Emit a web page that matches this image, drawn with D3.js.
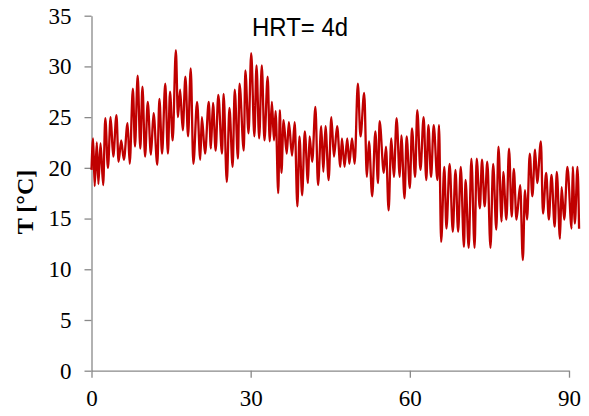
<!DOCTYPE html>
<html>
<head>
<meta charset="utf-8">
<script src="https://cdn.jsdelivr.net/npm/d3@7"></script>
<style>
  html, body { margin: 0; padding: 0; background: #ffffff; }
  svg { display: block; }
</style>
</head>
<body>
<svg id="chart" width="589" height="416"></svg>
<script>
// ---- data ----
const chartTitle = "HRT= 4d";
const yTitle = "T [°C]";
const xTicks = [0, 30, 60, 90];
const yTicks = [0, 5, 10, 15, 20, 25, 30, 35];

// time in days
const days = [
  0.0, 0.3, 0.6, 1.0, 1.3, 1.7, 2.2, 2.6, 3.1, 3.6, 4.1, 4.7, 5.1, 5.6, 6.1, 6.8, 7.2, 7.8, 8.2, 8.7,
  9.2, 9.6, 10.1, 10.6, 11.2, 11.7, 12.4, 12.8, 13.3, 13.9, 14.4, 14.8, 15.3, 15.9, 16.3, 16.7, 17.2, 17.7, 18.2, 18.7,
  19.2, 19.9, 20.5, 20.8, 21.4, 22.1,
  22.5, 22.9, 23.4, 23.9, 24.6, 24.9, 25.5, 26.0, 26.6, 27.0, 27.6, 27.9, 28.7, 29.0, 29.6, 30.1, 30.7, 31.1, 31.6, 32.1,
  32.6, 33.2, 33.6, 34.0, 34.4, 34.7, 35.2, 35.5, 35.8, 36.2, 36.8, 37.2, 37.8, 38.3, 38.8, 39.2, 39.7, 40.2, 40.8, 41.1,
  41.6, 42.2, 42.7, 43.3, 43.7, 44.1, 44.7, 45.2,
  45.7, 46.3, 46.9, 47.2, 47.7, 48.2, 48.6, 49.1, 49.6, 50.2, 50.7, 51.4, 51.9, 52.3, 52.9, 53.5, 54.0, 54.3, 55.1, 55.5,
  56.0, 56.5, 57.0, 57.5, 58.1, 58.4, 59.0, 59.4, 60.0, 60.4, 61.0, 61.4, 62.0, 62.6, 63.1, 63.5, 64.0, 64.5, 65.2, 65.5,
  65.9, 66.5, 66.9, 67.5,
  68.1, 68.6, 69.1, 69.6, 70.2, 70.5, 71.1, 71.6, 72.2, 72.6, 73.2, 73.6, 74.1, 74.6, 75.2, 75.7, 76.3, 76.7, 77.3, 77.6,
  78.2, 78.7, 79.2, 79.6, 80.1, 80.8, 81.3, 81.7, 82.1, 82.6, 83.1, 83.6, 84.0, 84.7, 85.1, 85.7, 86.2, 86.7, 87.3, 87.7,
  88.3, 88.6, 89.1, 89.7, 90.5, 90.7, 91.1, 91.6, 91.9
];
// temperature in °C
const temps = [
  19.8, 22.9, 18.2, 22.5, 18.4, 22.4, 18.3, 24.9, 20.0, 25.0, 21.1, 25.2, 20.6, 22.7, 20.8, 24.4, 20.4, 27.8, 22.1, 29.1,
  21.9, 28.0, 21.1, 26.5, 21.3, 25.4, 20.3, 26.8, 21.4, 28.3, 21.4, 27.5, 22.7, 31.6, 25.0, 27.7, 23.7, 29.0, 23.1, 29.8,
  20.4, 26.5, 20.8, 25.0, 21.4, 26.5,
  21.9, 26.4, 21.7, 27.2, 21.4, 27.3, 18.6, 25.9, 20.1, 27.7, 20.9, 28.3, 21.7, 29.6, 23.4, 31.3, 23.1, 30.1, 22.9, 30.1,
  22.7, 29.0, 22.6, 26.5, 22.7, 25.6, 17.5, 25.7, 19.5, 24.7, 21.4, 24.5, 21.2, 24.5, 16.2, 23.1, 17.3, 23.6, 18.5, 23.1,
  20.6, 26.0, 18.3, 24.1, 19.6, 24.1, 18.8, 25.0,
  21.1, 24.1, 20.1, 22.9, 20.1, 22.9, 20.4, 22.9, 20.4, 28.3, 23.1, 27.4, 19.1, 22.6, 17.2, 23.6, 18.5, 24.6, 19.5, 22.1,
  15.8, 22.9, 19.1, 24.9, 19.1, 23.2, 17.0, 23.1, 18.0, 23.9, 19.1, 25.7, 19.8, 25.0, 18.8, 24.2, 19.1, 24.2, 18.8, 24.2,
  12.7, 20.1, 14.0, 20.4,
  13.7, 19.8, 13.7, 20.1, 12.2, 18.8, 12.1, 20.9, 12.1, 20.9, 16.0, 20.8, 16.2, 20.6, 12.1, 20.4, 13.9, 22.1, 14.7, 19.6,
  14.9, 21.9, 15.2, 19.9, 14.9, 18.3, 10.9, 17.8, 14.9, 21.4, 17.2, 21.8, 18.5, 22.6, 15.5, 19.5, 14.9, 19.3, 14.2, 19.6,
  13.0, 18.1, 14.9, 20.1, 14.0, 20.1, 14.5, 20.1, 14.0
];

const series = days.map((d, i) => ({ t: d, v: temps[i] }));

// ---- layout ----
const svg = d3.select("#chart");
const x0 = 91.5, x1 = 569, y0 = 370.7, y1 = 15.7;

const x = d3.scaleLinear().domain([0, 90]).range([x0, x1]);
const y = d3.scaleLinear().domain([0, 35]).range([y0, y1]);

const axisColor = "#898989";
const tickFont = "'Liberation Serif', 'Times New Roman', serif";

// y axis
const gy = svg.append("g")
  .attr("transform", `translate(${x0},0)`)
  .call(d3.axisLeft(y).tickValues(yTicks).tickSize(7).tickSizeOuter(0).tickPadding(13));
gy.select(".domain").attr("stroke", axisColor).attr("stroke-width", 1.3);
gy.selectAll(".tick line").attr("stroke", axisColor).attr("stroke-width", 1.3);
gy.selectAll(".tick text")
  .attr("fill", "#000").style("font-family", tickFont).style("font-size", "23px");

// x axis
const gx = svg.append("g")
  .attr("transform", `translate(0,${y0})`)
  .call(d3.axisBottom(x).tickValues(xTicks).tickSize(7).tickSizeOuter(0).tickPadding(12));
gx.select(".domain").attr("stroke", axisColor).attr("stroke-width", 1.3);
gx.selectAll(".tick line").attr("stroke", axisColor).attr("stroke-width", 1.3);
gx.selectAll(".tick text")
  .attr("fill", "#000").style("font-family", tickFont).style("font-size", "23px");

// line
const line = d3.line().x(d => x(d.t)).y(d => y(d.v)).curve(d3.curveMonotoneX);
svg.append("path")
  .datum(series)
  .attr("d", line)
  .attr("fill", "none")
  .attr("stroke", "#C00000")
  .attr("stroke-width", 2.3)
  .attr("stroke-linejoin", "round");

// y axis title
svg.append("text")
  .attr("transform", "translate(33,202) rotate(-90)")
  .attr("text-anchor", "middle")
  .style("font-family", tickFont)
  .style("font-weight", "bold")
  .style("font-size", "24px")
  .text(yTitle);

// chart title
svg.append("text")
  .attr("x", 300)
  .attr("y", 36)
  .attr("text-anchor", "middle")
  .attr("textLength", 96)
  .attr("lengthAdjust", "spacingAndGlyphs")
  .style("font-family", "'Liberation Sans', Arial, sans-serif")
  .style("font-size", "25px")
  .text(chartTitle);
</script>
</body>
</html>
